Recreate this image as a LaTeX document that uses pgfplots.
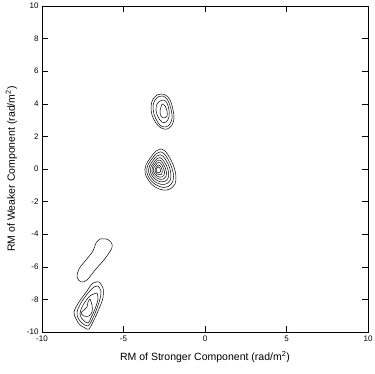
\documentclass[border=0pt]{standalone}
\usepackage{fontspec}
\setmainfont{Liberation Sans}
\usepackage{pgfplots}
\pgfplotsset{compat=1.18}
\begin{document}
\begin{tikzpicture}
\begin{axis}[
    width=326pt, height=326pt, scale only axis,
    xmin=-10, xmax=10, ymin=-10, ymax=10,
    xtick={-10,-5,0,5,10},
    ytick={-10,-8,-6,-4,-2,0,2,4,6,8,10},
    tick align=inside,
    major tick length=6pt,
    tick style={black, line width=0.5pt},
    axis line style={black, line width=0.6pt},
    ticklabel style={font=\fontsize{8}{9}\selectfont},
    /pgf/number format/assume math mode=true,
    xlabel={RM of Stronger Component (rad/m\textsuperscript{2})},
    ylabel={RM of Weaker Component (rad/m\textsuperscript{2})},
    label style={font=\fontsize{10.5}{12}\selectfont},
    xlabel style={yshift=-3pt},
    ylabel style={yshift=3pt},
    cont/.style={black, line width=0.5pt, smooth, tension=0.55, mark=none},
]
% upper group
\addplot[cont] coordinates {(-2.94,4.54) (-2.58,4.60) (-2.27,4.42) (-2.09,4.11) (-1.96,3.62) (-1.90,3.13) (-2.02,2.70) (-2.33,2.45) (-2.70,2.52) (-3.01,2.82) (-3.25,3.31) (-3.31,3.87) (-3.19,4.29) (-2.94,4.54)};
\addplot[cont] coordinates {(-2.88,4.42) (-2.58,4.48) (-2.33,4.29) (-2.18,3.99) (-2.06,3.56) (-2.02,3.13) (-2.15,2.76) (-2.39,2.58) (-2.70,2.64) (-2.94,2.94) (-3.13,3.37) (-3.19,3.87) (-3.07,4.23) (-2.88,4.42)};
\addplot[cont] coordinates {(-2.76,4.17) (-2.52,4.23) (-2.33,4.05) (-2.21,3.62) (-2.21,3.19) (-2.39,2.88) (-2.64,2.88) (-2.88,3.19) (-3.01,3.62) (-2.94,3.99) (-2.76,4.17)};
\addplot[cont] coordinates {(-2.64,3.99) (-2.45,3.87) (-2.33,3.56) (-2.33,3.25) (-2.52,3.13) (-2.70,3.25) (-2.76,3.56) (-2.64,3.99)};
% central group
\addplot[cont] coordinates {(-2.70,1.23) (-2.45,1.10) (-2.15,0.67) (-1.90,0.12) (-1.78,-0.43) (-1.84,-0.92) (-2.15,-1.23) (-2.58,-1.29) (-3.07,-1.10) (-3.44,-0.74) (-3.68,-0.25) (-3.62,0.25) (-3.31,0.74) (-3.01,1.10) (-2.70,1.23)};
\addplot[cont] coordinates {(-2.73,1.05) (-2.51,0.94) (-2.25,0.57) (-2.04,0.09) (-1.93,-0.38) (-1.99,-0.80) (-2.25,-1.07) (-2.62,-1.12) (-3.04,-0.95) (-3.36,-0.65) (-3.57,-0.22) (-3.52,0.21) (-3.25,0.63) (-2.99,0.94) (-2.73,1.05)};
\addplot[cont] coordinates {(-2.75,0.87) (-2.57,0.78) (-2.35,0.47) (-2.17,0.07) (-2.09,-0.33) (-2.13,-0.68) (-2.35,-0.90) (-2.66,-0.95) (-3.02,-0.81) (-3.28,-0.55) (-3.46,-0.20) (-3.41,0.16) (-3.19,0.52) (-2.97,0.78) (-2.75,0.87)};
\addplot[cont] coordinates {(-2.77,0.70) (-2.63,0.62) (-2.45,0.37) (-2.30,0.05) (-2.23,-0.28) (-2.27,-0.57) (-2.45,-0.75) (-2.70,-0.79) (-2.99,-0.67) (-3.21,-0.46) (-3.35,-0.17) (-3.32,0.12) (-3.13,0.41) (-2.96,0.62) (-2.77,0.70)};
\addplot[cont] coordinates {(-2.80,0.55) (-2.68,0.49) (-2.54,0.28) (-2.42,0.02) (-2.36,-0.23) (-2.39,-0.46) (-2.54,-0.61) (-2.74,-0.64) (-2.97,-0.55) (-3.14,-0.38) (-3.26,-0.15) (-3.23,0.09) (-3.08,0.32) (-2.94,0.49) (-2.80,0.55)};
\addplot[cont] coordinates {(-2.82,0.40) (-2.73,0.36) (-2.62,0.20) (-2.53,0.00) (-2.48,-0.19) (-2.51,-0.37) (-2.62,-0.48) (-2.77,-0.50) (-2.95,-0.43) (-3.08,-0.30) (-3.17,-0.13) (-3.15,0.05) (-3.03,0.23) (-2.93,0.36) (-2.82,0.40)};
\addplot[cont] coordinates {(-2.84,0.25) (-2.70,0.12) (-2.62,-0.15) (-2.70,-0.34) (-2.93,-0.31) (-3.07,-0.11) (-2.98,0.13) (-2.84,0.25)};
\addplot[cont] coordinates {(-2.86,0.14) (-2.76,0.04) (-2.72,-0.14) (-2.80,-0.24) (-2.95,-0.20) (-3.00,-0.06) (-2.94,0.08) (-2.86,0.14)};
% elongated contour
\addplot[cont] coordinates {(-6.44,-4.29) (-6.07,-4.29) (-5.77,-4.48) (-5.71,-4.85) (-6.20,-5.58) (-6.69,-6.13) (-7.24,-6.81) (-7.61,-6.93) (-7.85,-6.63) (-7.73,-6.13) (-7.30,-5.58) (-6.87,-5.03) (-6.69,-4.54) (-6.44,-4.29)};
% lower group
\addplot[cont] coordinates {(-6.50,-6.93) (-6.26,-7.30) (-6.26,-7.91) (-6.56,-8.71) (-6.81,-9.26) (-7.12,-9.82) (-7.36,-9.75) (-7.67,-9.57) (-7.91,-9.20) (-8.04,-8.77) (-7.73,-8.16) (-7.24,-7.48) (-6.87,-6.99) (-6.50,-6.93)};
\addplot[cont] coordinates {(-6.56,-7.18) (-6.38,-7.48) (-6.44,-7.97) (-6.69,-8.71) (-6.93,-9.26) (-7.18,-9.63) (-7.55,-9.45) (-7.79,-9.14) (-7.85,-8.77) (-7.61,-8.22) (-7.18,-7.61) (-6.81,-7.24) (-6.56,-7.18)};
\addplot[cont] coordinates {(-6.63,-7.61) (-6.56,-7.97) (-6.75,-8.59) (-7.00,-9.14) (-7.18,-9.45) (-7.48,-9.26) (-7.67,-8.90) (-7.48,-8.34) (-7.06,-7.79) (-6.63,-7.61)};
\addplot[cont] coordinates {(-7.06,-7.97) (-6.93,-8.34) (-6.93,-8.77) (-7.12,-9.02) (-7.42,-9.02) (-7.61,-8.83) (-7.42,-8.65) (-7.24,-8.47) (-7.18,-8.16) (-7.06,-7.97)};
\end{axis}
\pgfresetboundingbox
\path[use as bounding box] (current axis.south west) ++(-42pt,-42pt) rectangle ([shift={(6pt,6pt)}]current axis.north east);
\end{tikzpicture}
\end{document}
